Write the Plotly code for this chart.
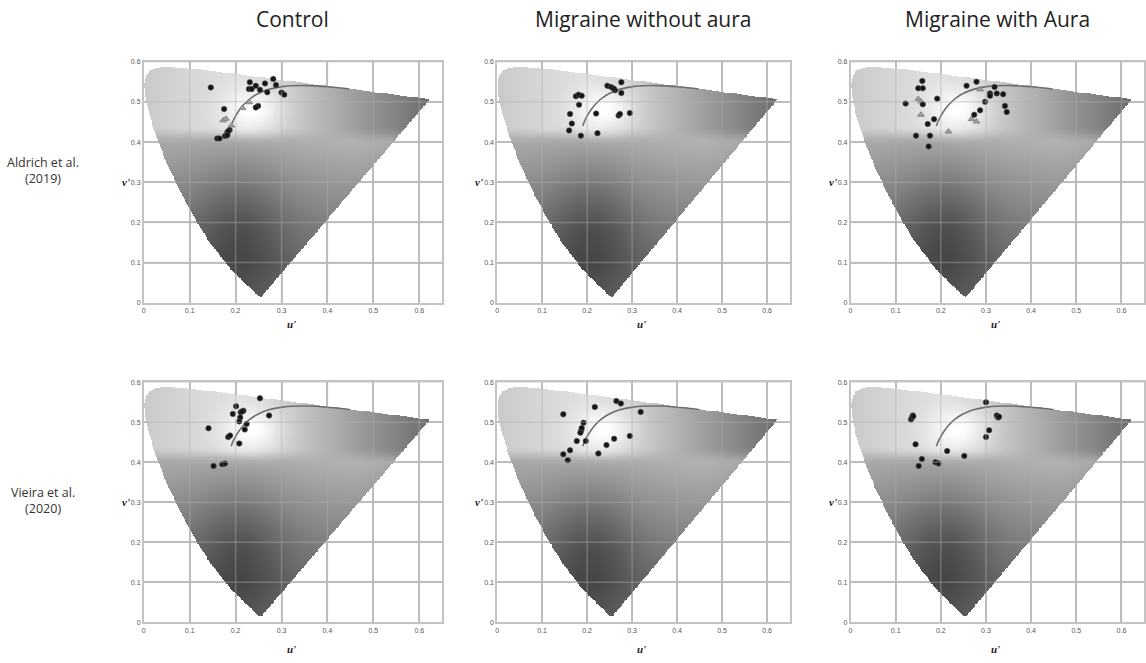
import numpy as np
import plotly.graph_objects as go

# ---------------- data ----------------
COLUMN_TITLES = ["Control", "Migraine without aura", "Migraine with Aura"]
ROW_TITLES = ["Aldrich et al.<br>(2019)", "Vieira et al.<br>(2020)"]
U_TICKS = [0, 0.1, 0.2, 0.3, 0.4, 0.5, 0.6]
V_TICKS = [0, 0.1, 0.2, 0.3, 0.4, 0.5, 0.6]
U_TICK_TEXT = ["0", "0.1", "0.2", "0.3", "0.4", "0.5", "0.6"]
V_TICK_TEXT = ["0", "0.1", "0.2", "0.3", "0.4", "0.5", "0.6"]

# CIE 1976 u'v' spectral locus (380 nm ... 700 nm)
LOCUS_U = [0.2568, 0.2557, 0.2522, 0.2461, 0.2347, 0.2161, 0.1877, 0.1441, 0.1147,
           0.0828, 0.0521, 0.0282, 0.0119, 0.0035, 0.0014, 0.0046, 0.0123, 0.0231,
           0.0360, 0.0501, 0.0792, 0.1127, 0.1531, 0.2026, 0.2623, 0.3315, 0.4035,
           0.4692, 0.5203, 0.6005, 0.6234]
LOCUS_V = [0.0166, 0.0159, 0.0169, 0.0226, 0.0350, 0.0550, 0.0871, 0.1510, 0.2044,
           0.2708, 0.3427, 0.4117, 0.4698, 0.5130, 0.5430, 0.5638, 0.5770, 0.5837,
           0.5861, 0.5868, 0.5856, 0.5821, 0.5766, 0.5694, 0.5604, 0.5501, 0.5393,
           0.5296, 0.5219, 0.5100, 0.5065]

# Planckian locus (10000 K ... 1000 K)
PLANCK_U = [0.1903, 0.1944, 0.2004, 0.2114, 0.2251, 0.2357, 0.2505, 0.2722, 0.3051, 0.3579, 0.4060, 0.4481]
PLANCK_V = [0.4400, 0.4523, 0.4656, 0.4847, 0.5016, 0.5113, 0.5214, 0.5311, 0.5386, 0.5405, 0.5369, 0.5319]

# participant chromaticities, panels in reading order
# row 1: Aldrich et al. (2019)
A_CTRL_U = [0.146, 0.231, 0.229, 0.235, 0.244, 0.264, 0.253, 0.269, 0.282, 0.288, 0.300, 0.306,
            0.249, 0.244, 0.175, 0.182, 0.187, 0.184, 0.177, 0.160, 0.165, 0.182]
A_CTRL_V = [0.536, 0.549, 0.532, 0.532, 0.540, 0.546, 0.530, 0.524, 0.557, 0.542, 0.523, 0.518,
            0.490, 0.486, 0.482, 0.424, 0.430, 0.427, 0.415, 0.409, 0.409, 0.417]
A_CTRL_GU = [0.173, 0.179, 0.191, 0.215, 0.230]
A_CTRL_GV = [0.454, 0.458, 0.441, 0.485, 0.499]

A_MWO_U = [0.175, 0.181, 0.188, 0.182, 0.162, 0.166, 0.160, 0.186, 0.220, 0.223, 0.245, 0.253,
           0.262, 0.259, 0.276, 0.276, 0.270, 0.273, 0.295]
A_MWO_V = [0.514, 0.518, 0.515, 0.493, 0.470, 0.446, 0.429, 0.416, 0.471, 0.422, 0.540, 0.537,
           0.529, 0.533, 0.549, 0.522, 0.466, 0.470, 0.472]
A_MWO_GU = []
A_MWO_GV = []

A_MWA_U = [0.159, 0.150, 0.160, 0.122, 0.160, 0.192, 0.185, 0.171, 0.145, 0.176, 0.173, 0.257,
           0.279, 0.309, 0.309, 0.319, 0.324, 0.338, 0.298, 0.287, 0.274, 0.342, 0.346]
A_MWA_V = [0.552, 0.534, 0.534, 0.496, 0.494, 0.508, 0.457, 0.445, 0.416, 0.416, 0.389, 0.540,
           0.550, 0.521, 0.515, 0.537, 0.521, 0.519, 0.500, 0.479, 0.468, 0.490, 0.475]
A_MWA_GU = [0.150, 0.156, 0.156, 0.217, 0.287, 0.268, 0.279]
A_MWA_GV = [0.507, 0.501, 0.468, 0.426, 0.531, 0.457, 0.451]

# row 2: Vieira et al. (2020)
V_CTRL_U = [0.253, 0.201, 0.194, 0.211, 0.217, 0.214, 0.210, 0.208, 0.224, 0.220, 0.273, 0.141,
            0.184, 0.188, 0.208, 0.152, 0.171, 0.177]
V_CTRL_V = [0.560, 0.540, 0.521, 0.525, 0.529, 0.527, 0.512, 0.502, 0.496, 0.482, 0.517, 0.485,
            0.463, 0.467, 0.447, 0.391, 0.395, 0.397]
V_MWO_U = [0.147, 0.217, 0.265, 0.275, 0.319, 0.192, 0.187, 0.185, 0.188, 0.177, 0.197, 0.162,
           0.147, 0.157, 0.225, 0.243, 0.260, 0.295]
V_MWO_V = [0.520, 0.538, 0.553, 0.547, 0.526, 0.499, 0.480, 0.474, 0.486, 0.453, 0.453, 0.430,
           0.420, 0.405, 0.422, 0.443, 0.459, 0.466]
V_MWA_U = [0.134, 0.136, 0.138, 0.139, 0.300, 0.324, 0.327, 0.329, 0.307, 0.300, 0.144, 0.214,
           0.252, 0.158, 0.151, 0.188, 0.195]
V_MWA_V = [0.507, 0.512, 0.517, 0.515, 0.550, 0.517, 0.512, 0.514, 0.480, 0.463, 0.445, 0.428,
           0.416, 0.408, 0.391, 0.400, 0.397]

PANELS = [
    (A_CTRL_U, A_CTRL_V, A_CTRL_GU, A_CTRL_GV),
    (A_MWO_U, A_MWO_V, A_MWO_GU, A_MWO_GV),
    (A_MWA_U, A_MWA_V, A_MWA_GU, A_MWA_GV),
    (V_CTRL_U, V_CTRL_V, [], []),
    (V_MWO_U, V_MWO_V, [], []),
    (V_MWA_U, V_MWA_V, [], []),
]

# ---------------- grey rendering of the u'v' gamut (background shading) ----------------
U_MAX, V_MAX = 0.65, 0.6
gu = np.linspace(0, U_MAX, 326)
gv = np.linspace(0.001, V_MAX, 301)
UU, VV = np.meshgrid(gu, gv)


def inside(px, py, polx, poly):
    polx = np.asarray(polx); poly = np.asarray(poly)
    res = np.zeros(px.shape, dtype=bool)
    n = len(polx)
    j = n - 1
    for i in range(n):
        xi, yi, xj, yj = polx[i], poly[i], polx[j], poly[j]
        cond = ((yi > py) != (yj > py)) & (px < (xj - xi) * (py - yi) / (yj - yi + 1e-12) + xi)
        res ^= cond
        j = i
    return res


def smooth(t):
    t = np.clip(t, 0, 1)
    return t * t * (3 - 2 * t)


mask = inside(UU, VV, LOCUS_U, LOCUS_V)
band = smooth((VV - 0.395) / 0.045)
lower = np.interp(VV, [0, 0.1, 0.2, 0.3, 0.4], [0.40, 0.40, 0.47, 0.56, 0.66])
lower = lower + 0.15 * np.clip(UU - 0.2, 0, 0.25) - 0.5 * np.clip(UU - 0.47, 0, 0.2)
blob = np.exp(-((UU - 0.21) ** 2 / (2 * 0.07 ** 2) + (VV - 0.17) ** 2 / (2 * 0.12 ** 2)))
lower = lower - 0.15 * blob
upper = np.interp(UU, [0, 0.1, 0.2, 0.3, 0.4, 0.5, 0.63], [0.79, 0.84, 0.88, 0.82, 0.70, 0.57, 0.42])
grey = lower * (1 - band) + upper * band
glow = np.exp(-((UU - 0.235) ** 2 / (2 * 0.042 ** 2) + (VV - 0.482) ** 2 / (2 * 0.036 ** 2)))
grey = grey + (1 - grey) * glow
grey = np.where(mask, grey, np.nan).astype(np.float32)

# ---------------- layout geometry ----------------
W, H = 1146, 663
COL_PX = [(142, 441), (496, 789), (850, 1144)]
ROW_PX = [(58.3, 302), (382.3, 625)]
ROW_LABEL_Y = [168, 502]
U_LABEL_GAP = [21, 27]

fig = go.Figure()
layout = dict(width=W, height=H, margin=dict(l=0, r=0, t=0, b=0),
              paper_bgcolor="white", plot_bgcolor="white", showlegend=False)
annotations = []
shapes = []

GRID = "#c3c3c3"
TICKFONT = dict(family="Liberation Sans", size=7, color="#555555")

for k, (pu, pv, pgu, pgv) in enumerate(PANELS):
    r, c = divmod(k, 3)
    n = k + 1
    xa = "x" if n == 1 else f"x{n}"
    ya = "y" if n == 1 else f"y{n}"
    x0, x1 = COL_PX[c]
    ytop, ybot = ROW_PX[r]
    layout["xaxis" if n == 1 else f"xaxis{n}"] = dict(
        domain=[x0 / W, x1 / W], anchor=ya, range=[0, U_MAX],
        tickvals=U_TICKS, ticktext=U_TICK_TEXT, tickfont=TICKFONT, ticks="",
        showgrid=True, gridcolor=GRID, gridwidth=1.5, zeroline=False,
        showline=True, linecolor=GRID, linewidth=1.5, mirror=True, fixedrange=True)
    layout["yaxis" if n == 1 else f"yaxis{n}"] = dict(
        domain=[1 - ybot / H, 1 - ytop / H], anchor=xa, range=[0, V_MAX],
        tickvals=V_TICKS, ticktext=V_TICK_TEXT, tickfont=TICKFONT, ticks="",
        showgrid=True, gridcolor=GRID, gridwidth=1.5, zeroline=False,
        showline=True, linecolor=GRID, linewidth=1.5, mirror=True, fixedrange=True)

    fig.add_trace(go.Heatmap(x=gu, y=gv, z=grey, zmin=0, zmax=1,
                             colorscale=[[0, "black"], [1, "white"]], showscale=False,
                             hoverinfo="skip", xaxis=xa, yaxis=ya))
    for t in U_TICKS[1:]:
        shapes.append(dict(type="line", xref=xa, yref=ya, x0=t, x1=t, y0=0, y1=V_MAX,
                           line=dict(color="rgba(175,175,175,0.4)", width=1.5), layer="above"))
    for t in V_TICKS[1:]:
        shapes.append(dict(type="line", xref=xa, yref=ya, x0=0, x1=U_MAX, y0=t, y1=t,
                           line=dict(color="rgba(175,175,175,0.4)", width=1.5), layer="above"))

    fig.add_trace(go.Scatter(x=PLANCK_U, y=PLANCK_V, mode="lines", line_shape="spline",
                             line=dict(color="#6e6e6e", width=1.6), hoverinfo="skip",
                             xaxis=xa, yaxis=ya))
    if pgu:
        fig.add_trace(go.Scatter(x=pgu, y=pgv, mode="markers",
                                 marker=dict(symbol="triangle-up", size=6, color="#a0a0a0",
                                             line=dict(color="#7a7a7a", width=0.8)),
                                 xaxis=xa, yaxis=ya))
    fig.add_trace(go.Scatter(x=pu, y=pv, mode="markers",
                             marker=dict(symbol="circle", size=5.5, color="#151515",
                                         line=dict(color="#555555", width=0.6)),
                             xaxis=xa, yaxis=ya))

    annotations.append(dict(text="<b><i>v'</i></b>", xref="paper", yref="paper",
                            x=(x0 - 12) / W, y=1 - (ytop + ybot) / 2 / H, showarrow=False,
                            font=dict(family="Liberation Serif", size=11, color="#222222"),
                            xanchor="right", yanchor="middle"))
    annotations.append(dict(text="<b><i>u'</i></b>", xref="paper", yref="paper",
                            x=(x0 + x1) / 2 / W - 1.5 / W, y=1 - (ybot + U_LABEL_GAP[r]) / H,
                            showarrow=False,
                            font=dict(family="Liberation Serif", size=11, color="#222222"),
                            xanchor="center", yanchor="middle"))

for c, title in enumerate(COLUMN_TITLES):
    x0, x1 = COL_PX[c]
    annotations.append(dict(text=title, xref="paper", yref="paper",
                            x=(x0 + x1) / 2 / W, y=1 - 15 / H, showarrow=False,
                            font=dict(family="Open Sans", size=21, color="#222222"),
                            xanchor="center", yanchor="middle"))

for r, label in enumerate(ROW_TITLES):
    annotations.append(dict(text=label, xref="paper", yref="paper",
                            x=41 / W, y=1 - ROW_LABEL_Y[r] / H, showarrow=False,
                            font=dict(family="Open Sans", size=12.5, color="#333333"),
                            xanchor="center", yanchor="middle", align="center"))

layout["annotations"] = annotations
layout["shapes"] = shapes
fig.update_layout(**layout)
fig.write_html("out.html", config={"displayModeBar": False},
               post_script="document.body.style.margin='0';document.body.style.padding='0';")
